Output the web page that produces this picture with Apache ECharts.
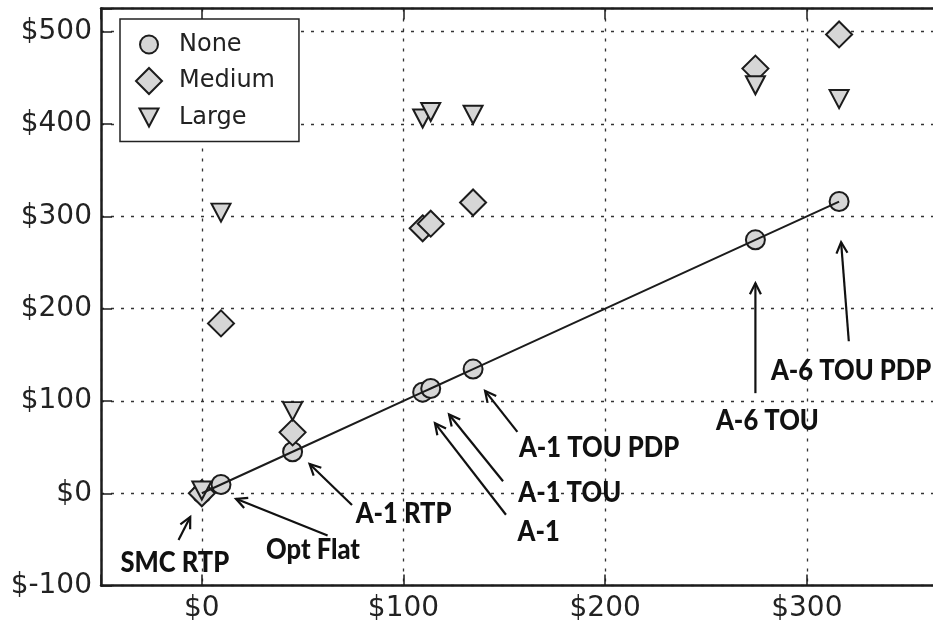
<!DOCTYPE html>
<html>
<head>
<meta charset="utf-8">
<script src="https://cdn.jsdelivr.net/npm/echarts@6/dist/echarts.min.js"></script>
<style>
  html, body { margin: 0; padding: 0; background: #ffffff; }
  #chart { width: 933px; height: 626px; }
</style>
</head>
<body>
<div id="chart"></div>
<script>
// Rate plans and the annual cost under each storage scenario
const tariffs = ['SMC RTP', 'Opt Flat', 'A-1 RTP', 'A-1', 'A-1 TOU', 'A-1 TOU PDP', 'A-6 TOU', 'A-6 TOU PDP'];
const costNone = [0, 9.5, 45, 109.5, 113.5, 134.5, 274.5, 316];
const costMedium = [0, 184, 66, 287, 292, 315, 460, 497];
const costLarge = [3, 304, 89, 406, 413, 410, 442, 427];
const seriesNames = ['None', 'Medium', 'Large'];
const xTickValues = [0, 100, 200, 300];
const yTickValues = [-100, 0, 100, 200, 300, 400, 500];

// Callout placement, in pixels relative to the labelled "None" point
const calloutLayout = [
  { tip: [-11.6, 23.7], tail: [-23.3, 46.7], text: [-27, 69] },
  { tip: [15, 14.3],    tail: [106.6, 51],   text: [92, 65] },
  { tip: [17, 12.3],    tail: [59.4, 53.3],  text: [111, 62] },
  { tip: [12.3, 31],    tail: [83.3, 122.6], text: [116, 139] },
  { tip: [18.3, 26],    tail: [72.3, 92.7],  text: [139, 104] },
  { tip: [12, 21.7],    tail: [44.3, 62.7],  text: [126, 79] },
  { tip: [0, 43.3],     tail: [0, 153.3],    text: [12, 181] },
  { tip: [2, 40.7],     tail: [9.7, 139.7],  text: [12, 169] }
];

const INK = '#1c1c1c';
const FILL = '#d6d6d6';
const tickFont = { fontFamily: 'DejaVu Sans', fontSize: 28, color: '#222' };

function money(v) { return '$' + v; }

const markerStyle = { color: FILL, borderColor: INK, borderWidth: 2, opacity: 1 };

const chart = echarts.init(document.getElementById('chart'), null, { renderer: 'canvas' });

const axisLine = { show: true, onZero: false, lineStyle: { color: INK, width: 2.5 } };
const axisTick = { show: true, inside: true, length: 11, lineStyle: { color: INK, width: 1.5 } };
const gridLine = { show: true, lineStyle: { color: '#333', width: 1.3, type: [3, 7] } };

// Legend glyphs centred in a common 50x28 box so each keeps its own size
const legendIcons = [
  'path://M0,0M50,28M16,14A9,9,0,1,0,34,14A9,9,0,1,0,16,14Z',
  'path://M0,0M50,28M25,1L38,14L25,27L12,14Z',
  'path://M0,0M50,28M15.5,5L34.5,5L25,23Z'
];

const option = {
  animation: false,
  backgroundColor: '#ffffff',
  grid: { left: 101, top: 8.6, right: -15, height: 577, containLabel: false, outerBoundsMode: 'none' },
  legend: {
    orient: 'vertical',
    left: 120,
    top: 19,
    padding: [10.5, 24, 9, 3],
    itemWidth: 50,
    itemHeight: 28,
    itemGap: 6.5,
    backgroundColor: '#ffffff',
    borderColor: '#222',
    borderWidth: 1.5,
    borderRadius: 0,
    selectedMode: false,
    textStyle: { fontFamily: 'DejaVu Sans', fontSize: 24, color: '#222' },
    itemStyle: { color: FILL, borderColor: INK, borderWidth: 2 },
    data: seriesNames.map((name, i) => ({ name, icon: legendIcons[i] }))
  },
  xAxis: [
    {
      type: 'value',
      position: 'bottom',
      min: -50,
      max: 370,
      minInterval: 100,
      maxInterval: 100,
      axisLine: axisLine,
      axisTick: axisTick,
      axisLabel: {
        margin: 9,
        ...tickFont,
        formatter: v => (xTickValues.includes(v) ? money(v) : '')
      },
      splitLine: gridLine
    },
    {
      type: 'value',
      position: 'top',
      min: -50,
      max: 370,
      minInterval: 100,
      maxInterval: 100,
      axisLine: axisLine,
      axisTick: axisTick,
      axisLabel: { show: false },
      splitLine: { show: false }
    }
  ],
  yAxis: [
    {
      type: 'value',
      position: 'left',
      min: -100,
      max: 525,
      minInterval: 100,
      maxInterval: 100,
      axisLine: axisLine,
      axisTick: axisTick,
      axisLabel: {
        margin: 9,
        ...tickFont,
        formatter: v => (yTickValues.includes(v) ? money(v) : '')
      },
      splitLine: gridLine
    }
  ],
  series: [
    {
      name: seriesNames[0],
      type: 'scatter',
      z: 2,
      symbol: 'circle',
      symbolSize: 19,
      clip: false,
      itemStyle: markerStyle,
      data: costNone.map((x, i) => [x, costNone[i]])
    },
    {
      name: seriesNames[1],
      type: 'scatter',
      z: 3,
      symbol: 'diamond',
      symbolSize: 26,
      clip: false,
      itemStyle: markerStyle,
      data: costNone.map((x, i) => [x, costMedium[i]])
    },
    {
      name: seriesNames[2],
      type: 'scatter',
      z: 4,
      symbol: 'triangle',
      symbolRotate: 180,
      symbolSize: [19, 18],
      clip: false,
      itemStyle: markerStyle,
      data: costNone.map((x, i) => [x, costLarge[i]])
    },
    {
      // trend through the no-storage costs, drawn over the markers
      name: 'trend',
      type: 'line',
      z: 5,
      symbol: 'none',
      silent: true,
      clip: false,
      lineStyle: { color: INK, width: 2 },
      data: costNone.map((x, i) => [x, costNone[i]])
    }
  ]
};

chart.setOption(option);

// Callout arrows with open heads, pointing at each plan's point
function arrow(tail, tip) {
  const dx = tip[0] - tail[0], dy = tip[1] - tail[1];
  const len = Math.hypot(dx, dy);
  const ux = dx / len, uy = dy / len;
  const headLen = 11, headHalf = 5.5;
  const bx = tip[0] - ux * headLen, by = tip[1] - uy * headLen;
  const left = [bx - uy * headHalf, by + ux * headHalf];
  const right = [bx + uy * headHalf, by - ux * headHalf];
  const st = { stroke: '#111', lineWidth: 2.2, fill: null, lineCap: 'butt', lineJoin: 'miter' };
  return [
    { type: 'polyline', z: 100, shape: { points: [tail, tip] }, style: st },
    { type: 'polyline', z: 100, shape: { points: [left, tip, right] }, style: st }
  ];
}

const callouts = [];
tariffs.forEach((name, i) => {
  const p = chart.convertToPixel({ xAxisIndex: 0, yAxisIndex: 0 }, [costNone[i], costNone[i]]);
  const L = calloutLayout[i];
  const tip = [p[0] + L.tip[0], p[1] + L.tip[1]];
  const tail = [p[0] + L.tail[0], p[1] + L.tail[1]];
  callouts.push(...arrow(tail, tip));
  callouts.push({
    type: 'text',
    z: 100,
    x: p[0] + L.text[0],
    y: p[1] + L.text[1],
    scaleX: 0.88,
    style: {
      text: name,
      font: '900 29px Lato',
      fill: '#111',
      align: 'center',
      verticalAlign: 'middle',
      textAlign: 'center',
      textVerticalAlign: 'middle'
    }
  });
});

chart.setOption({ graphic: { elements: callouts } });
</script>
</body>
</html>
